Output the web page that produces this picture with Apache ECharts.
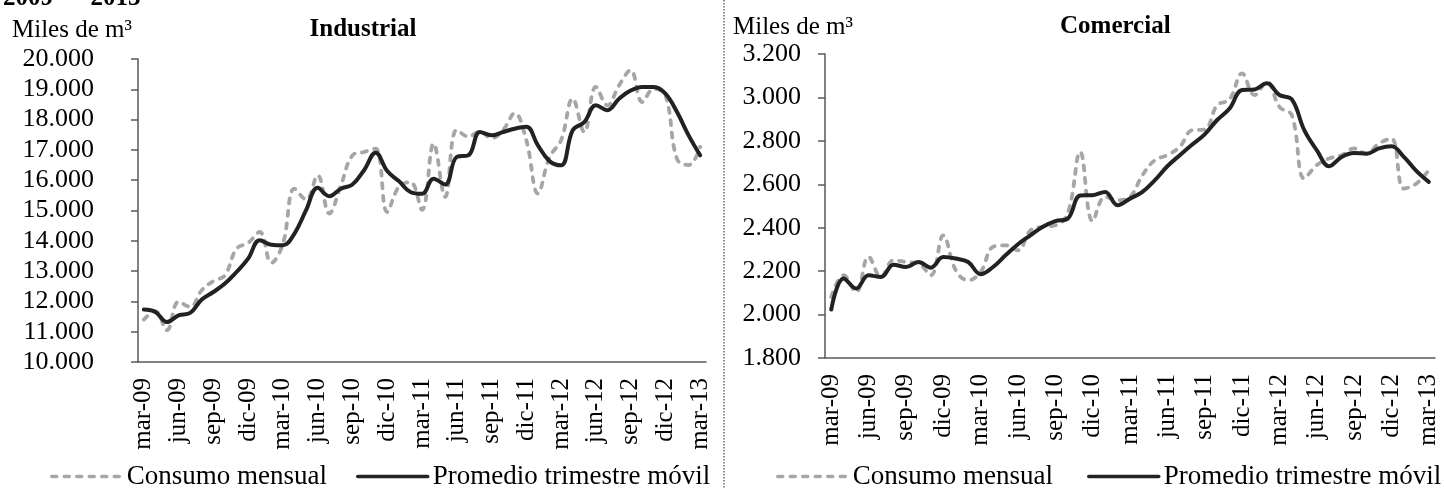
<!DOCTYPE html>
<html>
<head>
<meta charset="utf-8">
<script src="https://cdn.jsdelivr.net/npm/echarts@6/dist/echarts.min.js"></script>
<style>
  html, body { margin: 0; padding: 0; background: #ffffff; }
  #chart { width: 1444px; height: 489px; }
</style>
</head>
<body>
<div id="chart"></div>
<script>
// Monthly categories, March 2009 to March 2013
const months = [
  'mar-09','abr-09','may-09','jun-09','jul-09','ago-09','sep-09','oct-09','nov-09','dic-09',
  'ene-10','feb-10','mar-10','abr-10','may-10','jun-10','jul-10','ago-10','sep-10','oct-10','nov-10','dic-10',
  'ene-11','feb-11','mar-11','abr-11','may-11','jun-11','jul-11','ago-11','sep-11','oct-11','nov-11','dic-11',
  'ene-12','feb-12','mar-12','abr-12','may-12','jun-12','jul-12','ago-12','sep-12','oct-12','nov-12','dic-12',
  'ene-13','feb-13','mar-13'
];

// Industrial consumption (miles de m3)
const industrialMonthly = [
  11400, 11680, 11050, 11990, 11820, 12370, 12670, 12860, 13740, 13930,
  14290, 13270, 13900, 15720, 15360, 16160, 14900, 15830, 16820, 16930, 17040, 14950,
  15780, 15940, 15020, 17210, 15450, 17660, 17440, 17610, 17390, 17660, 18210, 17320,
  15560, 16760, 17320, 18690, 17590, 19080, 18470, 19130, 19630, 18580, 19020, 18800,
  16700, 16500, 17100
];
const industrialAvg = [
  11730, 11650, 11320, 11540, 11620, 12060, 12310, 12590, 12970, 13410,
  14020, 13870, 13850, 14240, 15010, 15750, 15470, 15720, 15860, 16330, 16910, 16300,
  15970, 15610, 15550, 16050, 15860, 16770, 16820, 17590, 17480, 17590, 17700, 17760,
  17150, 16630, 16490, 17650, 17920, 18470, 18310, 18690, 18960, 19080, 19080, 18860,
  18250, 17480, 16820
];

// Commercial consumption (miles de m3)
const commercialMonthly = [
  2081, 2181, 2104, 2266, 2173, 2250, 2242, 2235, 2181, 2365,
  2204, 2158, 2196, 2312, 2319, 2296, 2388, 2404, 2411, 2465, 2749, 2430,
  2542, 2527, 2542, 2642, 2711, 2734, 2773, 2849, 2852, 2964, 2991, 3111,
  3011, 3072, 2957, 2918, 2627, 2688, 2719, 2734, 2765, 2741, 2788, 2811,
  2580, 2603, 2665
];
const commercialAvg = [
  2023, 2166, 2120, 2181, 2173, 2230, 2219, 2242, 2216, 2265,
  2258, 2242, 2186, 2219, 2273, 2324, 2365, 2404, 2430, 2442, 2548, 2550,
  2565, 2504, 2534, 2565, 2619, 2683, 2734, 2783, 2830, 2896, 2949, 3034,
  3037, 3065, 3011, 2991, 2849, 2757, 2683, 2726, 2744, 2741, 2765, 2775,
  2726, 2662, 2611
];

// Value-axis ranges
const industrialScale = { min: 10000, max: 20000, step: 1000 };
const commercialScale = { min: 1800, max: 3200, step: 200 };

const seriesNames = ['Consumo mensual', 'Promedio trimestre móvil'];

const SERIF = '"Liberation Serif", "Times New Roman", serif';
const AXIS_COLOR = '#595959';
const MONTHLY_COLOR = '#a6a6a6';
const AVERAGE_COLOR = '#222222';

function withDots(v) {
  return String(v).replace(/\B(?=(\d{3})+(?!\d))/g, '.');
}

function categoryAxis(gridIndex) {
  return {
    type: 'category',
    gridIndex: gridIndex,
    data: months,
    boundaryGap: true,
    axisLine: { lineStyle: { color: AXIS_COLOR, width: 1.5 } },
    axisTick: { interval: 2, length: 7, lineStyle: { color: AXIS_COLOR, width: 1.5 } },
    axisLabel: {
      interval: 2, rotate: 90, margin: 16,
      fontSize: 25, color: '#000', fontFamily: SERIF
    },
    splitLine: { show: false }
  };
}

function valueAxis(gridIndex, scale, margin) {
  return {
    type: 'value',
    gridIndex: gridIndex,
    min: scale.min,
    max: scale.max,
    interval: scale.step,
    axisLine: { show: true, lineStyle: { color: AXIS_COLOR, width: 1.5 } },
    axisTick: { show: true, length: 7, lineStyle: { color: AXIS_COLOR, width: 1.5 } },
    axisLabel: {
      margin: margin, fontSize: 26, color: '#000', fontFamily: SERIF,
      formatter: withDots
    },
    splitLine: { show: false }
  };
}

function monthlySeries(axisIndex, values) {
  return {
    name: seriesNames[0],
    type: 'line',
    xAxisIndex: axisIndex,
    yAxisIndex: axisIndex,
    data: values,
    smooth: 0.4,
    symbol: 'none',
    lineStyle: { color: MONTHLY_COLOR, width: 3.8, type: [5, 7.5], cap: 'round' },
    itemStyle: { color: MONTHLY_COLOR },
    z: 2
  };
}

function averageSeries(axisIndex, values) {
  return {
    name: seriesNames[1],
    type: 'line',
    xAxisIndex: axisIndex,
    yAxisIndex: axisIndex,
    data: values,
    smooth: 0.4,
    symbol: 'none',
    lineStyle: { color: AVERAGE_COLOR, width: 4, cap: 'round' },
    itemStyle: { color: AVERAGE_COLOR },
    z: 3
  };
}

function legendAt(left, gap) {
  return {
    data: seriesNames,
    left: left,
    top: 463,
    itemWidth: 70,
    itemHeight: 14,
    itemGap: gap,
    padding: 0,
    // line-only keys: the marker drawn over the line is made invisible
    itemStyle: { opacity: 0 },
    lineStyle: { width: 3.5 },
    textStyle: { fontSize: 27, color: '#000', fontFamily: SERIF }
  };
}

function label(x, y, text, opts) {
  return {
    type: 'text',
    x: x,
    y: y,
    style: Object.assign({
      text: text,
      fill: '#000',
      font: '25px ' + SERIF,
      verticalAlign: 'middle'
    }, opts || {})
  };
}

const chart = echarts.init(document.getElementById('chart'), null, { renderer: 'canvas' });

chart.setOption({
  backgroundColor: '#ffffff',
  animation: false,
  grid: [
    { left: 138, right: 738, top: 59, bottom: 127 },
    { left: 825, right: 9, top: 54, bottom: 131 }
  ],
  xAxis: [categoryAxis(0), categoryAxis(1)],
  yAxis: [valueAxis(0, industrialScale, 44), valueAxis(1, commercialScale, 24)],
  legend: [legendAt(50, 29), legendAt(776, 34)],
  series: [
    monthlySeries(0, industrialMonthly),
    averageSeries(0, industrialAvg),
    monthlySeries(1, commercialMonthly),
    averageSeries(1, commercialAvg)
  ],
  graphic: [
    {
      type: 'line',
      shape: { x1: 724, y1: 0, x2: 724, y2: 489 },
      style: { stroke: '#8c8c8c', lineWidth: 2, lineDash: [1.5, 1.5] }
    },
    label(3, -1, '2009  –  2013', { font: 'bold 25px ' + SERIF }),
    label(12, 30, 'Miles de m³'),
    label(363, 30, 'Industrial', { font: 'bold 25px ' + SERIF, align: 'center' }),
    label(733, 27, 'Miles de m³'),
    label(1060, 27, 'Comercial', { font: 'bold 25px ' + SERIF })
  ]
});
</script>
</body>
</html>
